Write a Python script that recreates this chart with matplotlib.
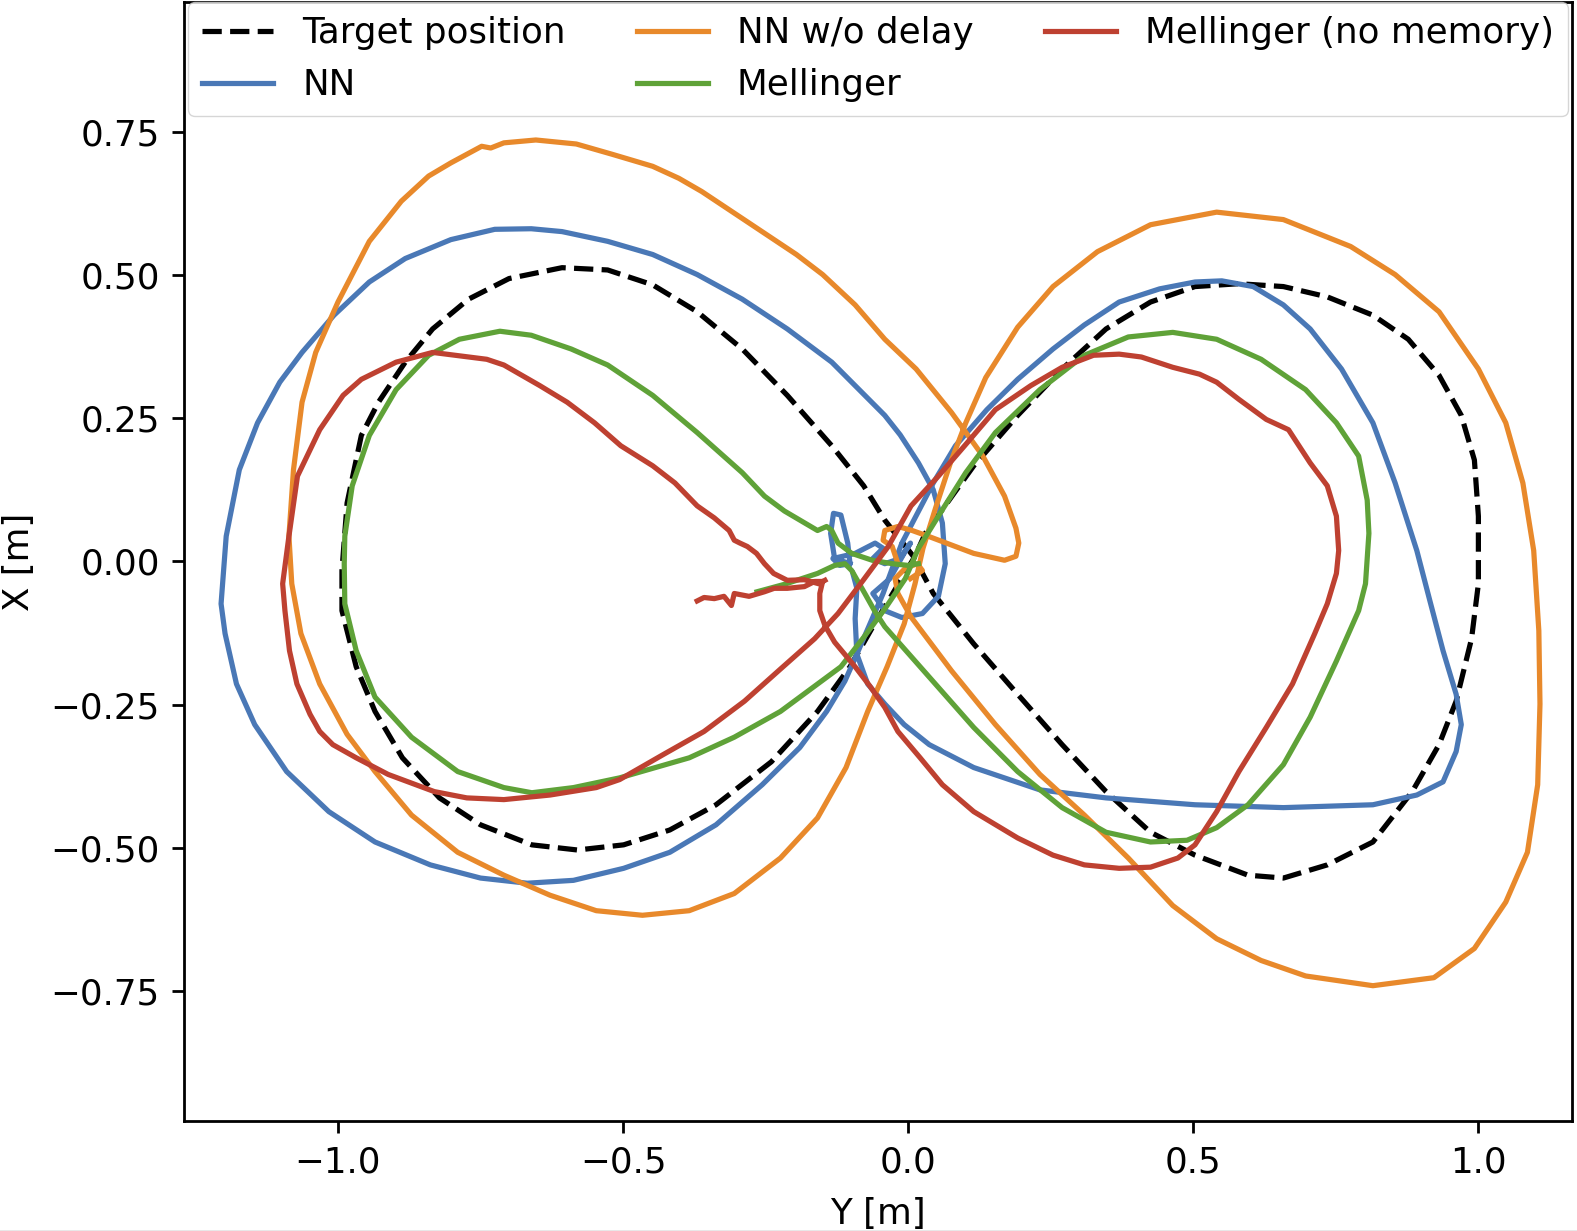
import matplotlib
matplotlib.use("Agg")
import matplotlib.pyplot as plt
from matplotlib.lines import Line2D

# ---------------- data (Y [m], X [m]) ----------------
target_pts = [
    (0.009, 0.009), (-0.041, 0.072), (-0.078, 0.132), (-0.134, 0.202), (-0.212, 0.290),
    (-0.291, 0.371), (-0.370, 0.436), (-0.448, 0.483), (-0.527, 0.509), (-0.607, 0.513),
    (-0.700, 0.494), (-0.771, 0.458), (-0.834, 0.406), (-0.882, 0.348), (-0.929, 0.278),
    (-0.959, 0.220), (-0.984, 0.102), (-0.993, -0.016), (-0.993, -0.086), (-0.968, -0.184),
    (-0.935, -0.262), (-0.887, -0.343), (-0.822, -0.413), (-0.750, -0.460), (-0.660, -0.495),
    (-0.580, -0.504), (-0.499, -0.495), (-0.418, -0.469), (-0.337, -0.425), (-0.240, -0.350),
    (-0.159, -0.262), (-0.102, -0.184), (-0.062, -0.114), (0.012, 0.009), (0.030, 0.049),
    (0.115, 0.167), (0.192, 0.255), (0.270, 0.336), (0.347, 0.406), (0.425, 0.453),
    (0.503, 0.480), (0.580, 0.485), (0.658, 0.480), (0.735, 0.462), (0.815, 0.430),
    (0.877, 0.388), (0.931, 0.325), (0.970, 0.255), (0.993, 0.177), (1.000, 0.079),
    (1.000, -0.039), (0.988, -0.135), (0.961, -0.244), (0.931, -0.320), (0.884, -0.402),
    (0.815, -0.490), (0.735, -0.530), (0.658, -0.553), (0.596, -0.548), (0.503, -0.513),
    (0.425, -0.473), (0.347, -0.402), (0.270, -0.320), (0.192, -0.232), (0.115, -0.144),
    (0.044, -0.056), (0.009, 0.009),
]

nn_pts = [
    (-0.102, -0.004), (-0.129, 0.005), (-0.136, 0.049), (-0.131, 0.084), (-0.118, 0.081),
    (-0.106, 0.032), (-0.102, -0.004), (-0.120, -0.007), (-0.132, 0.005), (-0.093, 0.014),
    (-0.058, 0.032), (-0.044, 0.023), (-0.062, 0.005), (-0.041, -0.004), (-0.014, 0.005),
    (0.004, 0.032), (-0.005, 0.018), (-0.032, -0.030), (-0.062, -0.056), (-0.041, -0.086),
    (-0.011, -0.098), (0.025, -0.091), (0.053, -0.061), (0.065, -0.004), (0.060, 0.067),
    (0.044, 0.125), (0.018, 0.172), (-0.014, 0.221), (-0.041, 0.255), (-0.093, 0.307),
    (-0.134, 0.348), (-0.212, 0.406), (-0.291, 0.458), (-0.370, 0.501), (-0.448, 0.536),
    (-0.527, 0.559), (-0.607, 0.576), (-0.661, 0.581), (-0.725, 0.580), (-0.802, 0.562),
    (-0.882, 0.529), (-0.945, 0.488), (-1.007, 0.430), (-1.063, 0.365), (-1.102, 0.313),
    (-1.141, 0.242), (-1.173, 0.160), (-1.196, 0.044), (-1.205, -0.074), (-1.198, -0.126),
    (-1.178, -0.214), (-1.146, -0.285), (-1.090, -0.367), (-1.016, -0.437), (-0.935, -0.490),
    (-0.838, -0.530), (-0.750, -0.553), (-0.668, -0.562), (-0.587, -0.557), (-0.499, -0.536),
    (-0.418, -0.508), (-0.337, -0.460), (-0.256, -0.390), (-0.190, -0.325), (-0.143, -0.262),
    (-0.111, -0.209), (-0.090, -0.162), (-0.067, -0.109), (-0.044, -0.056), (-0.026, -0.007),
    (-0.011, 0.032), (0.012, 0.076), (0.044, 0.137), (0.083, 0.202), (0.138, 0.265),
    (0.192, 0.318), (0.254, 0.371), (0.309, 0.413), (0.370, 0.453), (0.441, 0.476),
    (0.503, 0.488), (0.550, 0.490), (0.605, 0.480), (0.658, 0.448), (0.705, 0.406),
    (0.760, 0.336), (0.815, 0.242), (0.854, 0.137), (0.892, 0.019), (0.915, -0.069),
    (0.938, -0.156), (0.961, -0.232), (0.970, -0.285), (0.961, -0.332), (0.938, -0.385),
    (0.892, -0.408), (0.815, -0.425), (0.658, -0.430), (0.503, -0.425), (0.347, -0.413),
    (0.231, -0.399), (0.115, -0.360), (0.037, -0.320), (-0.007, -0.285), (-0.041, -0.249),
    (-0.071, -0.214), (-0.090, -0.162), (-0.093, -0.100), (-0.090, -0.047), (-0.097, -0.021),
]

nn_nodelay_pts = [
    (-0.018, -0.004), (-0.028, 0.026), (-0.044, 0.037), (-0.041, 0.054), (-0.018, 0.061),
    (0.007, 0.054), (0.035, 0.044), (0.083, 0.026), (0.115, 0.014), (0.169, 0.002),
    (0.189, 0.009), (0.194, 0.032), (0.189, 0.058), (0.169, 0.114), (0.131, 0.184),
    (0.076, 0.260), (0.014, 0.336), (-0.041, 0.388), (-0.093, 0.448), (-0.150, 0.501),
    (-0.196, 0.536), (-0.291, 0.599), (-0.362, 0.646), (-0.402, 0.669), (-0.448, 0.690),
    (-0.519, 0.711), (-0.582, 0.729), (-0.653, 0.736), (-0.709, 0.731), (-0.732, 0.722),
    (-0.748, 0.725), (-0.802, 0.696), (-0.841, 0.673), (-0.889, 0.629), (-0.945, 0.559),
    (-1.000, 0.453), (-1.039, 0.365), (-1.063, 0.278), (-1.078, 0.160), (-1.086, 0.044),
    (-1.081, -0.039), (-1.065, -0.126), (-1.032, -0.214), (-0.984, -0.302), (-0.935, -0.367),
    (-0.871, -0.443), (-0.790, -0.508), (-0.709, -0.548), (-0.628, -0.583), (-0.547, -0.610),
    (-0.466, -0.618), (-0.384, -0.610), (-0.305, -0.580), (-0.224, -0.518), (-0.159, -0.448),
    (-0.109, -0.360), (-0.071, -0.262), (-0.037, -0.184), (-0.007, -0.109), (0.012, -0.039),
    (0.026, 0.023), (0.048, 0.093), (0.074, 0.172), (0.101, 0.242), (0.136, 0.321),
    (0.192, 0.409), (0.254, 0.480), (0.332, 0.541), (0.425, 0.588), (0.541, 0.610),
    (0.658, 0.597), (0.776, 0.550), (0.854, 0.501), (0.931, 0.436), (1.000, 0.336),
    (1.048, 0.242), (1.078, 0.137), (1.097, 0.019), (1.106, -0.121), (1.108, -0.249),
    (1.104, -0.390), (1.086, -0.508), (1.048, -0.595), (0.993, -0.676), (0.922, -0.727),
    (0.815, -0.741), (0.697, -0.724), (0.619, -0.697), (0.541, -0.659), (0.464, -0.601),
    (0.386, -0.518), (0.309, -0.443), (0.231, -0.372), (0.153, -0.285), (0.076, -0.191),
    (0.005, -0.097), (-0.018, -0.056), (-0.023, -0.030), (-0.005, -0.012), (0.016, -0.004),
    (0.025, -0.016), (0.004, -0.030),
]

mellinger_pts = [
    (-0.265, -0.053), (-0.217, -0.040), (-0.159, -0.021), (-0.129, -0.007), (-0.111, -0.004),
    (-0.099, -0.016), (-0.076, -0.056), (-0.058, -0.088), (-0.041, -0.114), (0.037, -0.202),
    (0.115, -0.290), (0.192, -0.367), (0.270, -0.430), (0.347, -0.473), (0.425, -0.490),
    (0.489, -0.487), (0.541, -0.465), (0.596, -0.425), (0.658, -0.355), (0.705, -0.272),
    (0.751, -0.174), (0.790, -0.086), (0.802, -0.039), (0.808, 0.049), (0.805, 0.107),
    (0.790, 0.184), (0.751, 0.242), (0.697, 0.300), (0.619, 0.353), (0.541, 0.388),
    (0.464, 0.400), (0.386, 0.392), (0.309, 0.360), (0.231, 0.300), (0.153, 0.225),
    (0.101, 0.155), (0.056, 0.084), (0.018, 0.023), (-0.005, -0.030), (-0.041, -0.083),
    (-0.076, -0.130), (-0.118, -0.184), (-0.224, -0.262), (-0.305, -0.307), (-0.384, -0.343),
    (-0.506, -0.378), (-0.587, -0.395), (-0.660, -0.404), (-0.709, -0.395), (-0.790, -0.367),
    (-0.871, -0.307), (-0.935, -0.237), (-0.968, -0.156), (-0.988, -0.074), (-0.989, -0.004),
    (-0.988, 0.044), (-0.975, 0.132), (-0.945, 0.220), (-0.898, 0.300), (-0.841, 0.360),
    (-0.787, 0.388), (-0.716, 0.402), (-0.661, 0.395), (-0.591, 0.371), (-0.527, 0.343),
    (-0.448, 0.290), (-0.370, 0.225), (-0.291, 0.155), (-0.252, 0.114), (-0.217, 0.088),
    (-0.159, 0.054), (-0.143, 0.061), (-0.134, 0.054), (-0.123, 0.032), (-0.099, 0.014),
    (-0.063, 0.002), (-0.028, -0.004), (0.000, -0.007), (0.018, -0.004),
]

mellinger_nomem_pts = [
    (-0.370, -0.069), (-0.358, -0.063), (-0.340, -0.065), (-0.323, -0.061), (-0.310, -0.077),
    (-0.305, -0.056), (-0.279, -0.061), (-0.252, -0.053), (-0.235, -0.047), (-0.212, -0.047),
    (-0.182, -0.044), (-0.164, -0.035), (-0.150, -0.035), (-0.155, -0.056), (-0.155, -0.086),
    (-0.146, -0.112), (-0.129, -0.141), (-0.093, -0.184), (-0.067, -0.218), (-0.041, -0.255),
    (-0.018, -0.297), (0.021, -0.343), (0.060, -0.390), (0.115, -0.437), (0.192, -0.483),
    (0.254, -0.513), (0.309, -0.530), (0.370, -0.536), (0.425, -0.534), (0.473, -0.518),
    (0.503, -0.495), (0.541, -0.437), (0.580, -0.367), (0.628, -0.290), (0.674, -0.214),
    (0.713, -0.126), (0.735, -0.074), (0.751, -0.021), (0.755, 0.019), (0.751, 0.079),
    (0.735, 0.132), (0.705, 0.172), (0.667, 0.230), (0.628, 0.248), (0.580, 0.283),
    (0.541, 0.313), (0.511, 0.327), (0.464, 0.339), (0.409, 0.357), (0.370, 0.362),
    (0.325, 0.360), (0.270, 0.339), (0.215, 0.307), (0.153, 0.265), (0.099, 0.202),
    (0.053, 0.149), (0.005, 0.097), (-0.035, 0.026), (-0.079, -0.033), (-0.123, -0.091),
    (-0.164, -0.135), (-0.224, -0.188), (-0.287, -0.244), (-0.358, -0.297), (-0.429, -0.337),
    (-0.506, -0.381), (-0.547, -0.395), (-0.628, -0.408), (-0.709, -0.416), (-0.774, -0.413),
    (-0.831, -0.402), (-0.912, -0.372), (-0.968, -0.343), (-1.009, -0.320), (-1.032, -0.297),
    (-1.049, -0.267), (-1.072, -0.214), (-1.085, -0.156), (-1.093, -0.086), (-1.097, -0.039),
    (-1.086, 0.044), (-1.071, 0.149), (-1.032, 0.230), (-0.991, 0.290), (-0.959, 0.318),
    (-0.898, 0.348), (-0.834, 0.365), (-0.739, 0.353), (-0.709, 0.343), (-0.646, 0.307),
    (-0.598, 0.278), (-0.550, 0.242), (-0.504, 0.202), (-0.448, 0.167), (-0.409, 0.137),
    (-0.370, 0.097), (-0.340, 0.076), (-0.314, 0.054), (-0.305, 0.037), (-0.295, 0.032),
    (-0.282, 0.026), (-0.266, 0.014), (-0.252, -0.004), (-0.236, -0.021), (-0.212, -0.033),
    (-0.182, -0.032), (-0.157, -0.039), (-0.146, -0.033),
]

labels = ["Target position", "NN", "NN w/o delay", "Mellinger", "Mellinger (no memory)"]
colors = ["black", "#4a78b6", "#e8892b", "#5fa238", "#be4131"]
x_ticks = [-1.0, -0.5, 0.0, 0.5, 1.0]
y_ticks = [-0.75, -0.5, -0.25, 0.0, 0.25, 0.5, 0.75]

# ---------------- figure ----------------
plt.rcParams["font.family"] = ["DejaVu Sans"]
plt.rcParams["font.size"] = 25.7

fig = plt.figure(figsize=(15.77, 12.31), dpi=100)
ax = fig.add_axes([0.11668, 0.08903, 0.88009, 0.90935])

series = [target_pts, nn_pts, nn_nodelay_pts, mellinger_pts, mellinger_nomem_pts]
for i, (pts, lab, col) in enumerate(zip(series, labels, colors)):
    ys = [p[0] for p in pts]
    xs = [p[1] for p in pts]
    ls = "--" if i == 0 else "-"
    ax.plot(ys, xs, ls, color=col, lw=3.75, label=lab)

ax.set_xlim(-1.270, 1.164)
ax.set_ylim(-0.978, 0.977)
ax.set_xticks(x_ticks)
ax.set_yticks(y_ticks)
ax.set_xlabel("Y [m]", labelpad=12.5)
ax.set_ylabel("X [m]", labelpad=10.0)

for sp in ax.spines.values():
    sp.set_linewidth(2.0)
ax.tick_params(width=2.0, length=8.75, pad=8.75)

ax.legend(loc="upper center", bbox_to_anchor=(0.5, 1.0), ncol=3, borderaxespad=0.0)

# thin grey border line seen at the bottom of the reference
fig.add_artist(Line2D([0, 1], [0.0004, 0.0004], transform=fig.transFigure,
                      color="0.55", lw=1.0))

fig.savefig("out.png", dpi=100)
